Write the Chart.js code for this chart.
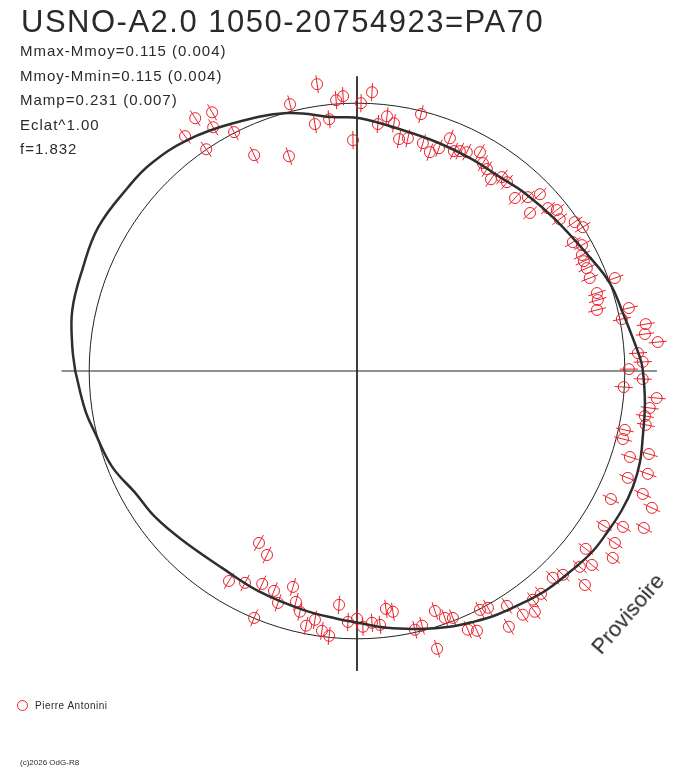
<!DOCTYPE html>
<html>
<head>
<meta charset="utf-8">
<script src="https://cdn.jsdelivr.net/npm/chart.js@4.4.1/dist/chart.umd.min.js"></script>
<style>
  html, body { margin: 0; padding: 0; background: #fff; }
  #wrap { position: relative; width: 688px; height: 768px; font-family: "Liberation Sans", Arial, sans-serif; color: #2a2a2a; }
  #c { position: absolute; left: 0; top: 0; }
  .txt { position: absolute; white-space: nowrap; line-height: 1; }
  #title { left: 21px; top: 6px; font-size: 31px; letter-spacing: 1.5px; }
  .stat { left: 20px; font-size: 15px; letter-spacing: 1px; }
  #prov { left: 573px; top: 603px; width: 110px; text-align: center; font-size: 22px; transform: rotate(-49deg); transform-origin: 50% 50%; }
  #legend { left: 17px; top: 700px; font-size: 10px; letter-spacing: 0.5px; }
  #legend .dot { display: inline-block; width: 9px; height: 9px; border: 1px solid #e8202a; border-radius: 50%; vertical-align: -2px; margin-right: 7px; }
  #copy { left: 20px; top: 759px; font-size: 8px; }
</style>
</head>
<body>
<div id="wrap">
  <canvas id="c" width="688" height="768"></canvas>
  <div id="title" class="txt">USNO-A2.0 1050-20754923=PA70</div>
  <div id="stats"></div>
  <div id="prov" class="txt">Provisoire</div>
  <div id="legend" class="txt"><span class="dot"></span>Pierre Antonini</div>
  <div id="copy" class="txt">(c)2026 OdG-R8</div>
</div>
<script>
// header lines
const statLines = ['Mmax-Mmoy=0.115 (0.004)', 'Mmoy-Mmin=0.115 (0.004)', 'Mamp=0.231 (0.007)', 'Eclat^1.00', 'f=1.832'];

// observations, polar light curve (unit = mean magnitude circle)
const obsX = [-0.149, 0.056, -0.078, -0.052, 0.015, -0.250, -0.541, -0.604, -0.537, -0.459,
  -0.642, -0.563, -0.157, -0.104, -0.015, -0.384, -0.254,
  0.239, 0.112, 0.078, 0.138, 0.157, 0.190, 0.246, 0.272, 0.306,
  0.347, 0.362, 0.384, 0.410, 0.459, 0.470, 0.485, 0.500, 0.541, 0.560,
  0.590, 0.638, 0.683, 0.646, 0.713, 0.746, 0.757, 0.813, 0.843, 0.806,
  0.840, 0.840, 0.847, 0.858, 0.869, 0.963, 0.896, 0.899, 0.896, 1.015,
  0.989, 1.078, 1.075, 1.123, 1.049, 1.067, 1.015, 1.067, 0.996, 1.119,
  1.093, 1.075, 1.078, 1.000, 0.993, 1.090, 1.019, 1.086, 1.011, 1.067,
  0.948, 1.101, 0.993, 0.922, 1.071, 0.963, 0.854, 0.955, 0.877, 0.832,
  0.769, 0.731, 0.851, 0.687, 0.657, 0.664, 0.619, 0.560, 0.489, 0.459,
  0.567, 0.414, 0.448, 0.358, 0.328, 0.299, 0.291, 0.216, 0.243, 0.108,
  0.134, 0.086, 0.056, 0.022, 0.000, -0.034, -0.067, -0.104, -0.131, -0.190,
  -0.157, -0.213, -0.228, -0.295, -0.310, -0.239, -0.354, -0.418, -0.478, -0.384,
  -0.366, -0.336];
const obsY = [1.071, 1.041, 1.011, 1.026, 1.000, 0.996, 0.966, 0.944, 0.910, 0.892,
  0.877, 0.828, 0.922, 0.940, 0.862, 0.806, 0.802,
  0.959, 0.951, 0.922, 0.925, 0.866, 0.869, 0.851, 0.817, 0.832,
  0.869, 0.821, 0.821, 0.817, 0.817, 0.776, 0.754, 0.716, 0.724, 0.705,
  0.646, 0.649, 0.660, 0.590, 0.608, 0.601, 0.567, 0.556, 0.537, 0.481,
  0.470, 0.433, 0.410, 0.384, 0.347, 0.347, 0.291, 0.265, 0.228, 0.235,
  0.194, 0.175, 0.138, 0.108, 0.067, 0.034, 0.007, -0.030, -0.060, -0.101,
  -0.138, -0.168, -0.201, -0.220, -0.254, -0.310, -0.321, -0.384, -0.399, -0.459,
  -0.478, -0.511, -0.582, -0.578, -0.586, -0.642, -0.664, -0.698, -0.724, -0.731,
  -0.761, -0.772, -0.799, -0.832, -0.854, -0.899, -0.910, -0.877, -0.884, -0.892,
  -0.955, -0.966, -0.970, -0.922, -0.922, -1.037, -0.896, -0.966, -0.951, -0.888,
  -0.899, -0.948, -0.940, -0.955, -0.925, -0.937, -0.873, -0.989, -0.970, -0.951,
  -0.929, -0.899, -0.862, -0.866, -0.821, -0.806, -0.795, -0.791, -0.784, -0.922,
  -0.642, -0.687];
const obsErr = 0.034;          // radial error bar half-length
const noErrIdx = [128, 129];   // points drawn without error bar

// fitted curve
const curveX = [-1.052, -1.063, -1.063, -1.026, -0.966, -0.854, -0.772, -0.634, -0.463, -0.261,
  -0.090, 0.011, 0.172, 0.299, 0.422, 0.534, 0.627, 0.739, 0.869, 0.944,
  0.993, 1.056, 1.067, 1.075, 1.067, 1.056, 1.030, 0.989, 0.933, 0.881,
  0.813, 0.709, 0.619, 0.522, 0.433, 0.347, 0.235, 0.112, 0.004, -0.075,
  -0.201, -0.362, -0.504, -0.653, -0.754, -0.828, -0.914, -0.978, -1.015, -1.052];
const curveY = [0.000, 0.090, 0.228, 0.377, 0.537, 0.687, 0.772, 0.862, 0.925, 0.963,
  0.948, 0.944, 0.899, 0.854, 0.795, 0.724, 0.664, 0.567, 0.425, 0.328,
  0.216, 0.052, 0.004, -0.119, -0.246, -0.343, -0.433, -0.519, -0.604, -0.672,
  -0.735, -0.817, -0.866, -0.910, -0.937, -0.955, -0.963, -0.959, -0.940, -0.925,
  -0.892, -0.825, -0.735, -0.631, -0.545, -0.455, -0.358, -0.231, -0.146, 0.000];

// axis extents
const axisHX = [-1.103, 1.12];
const axisVY = [1.1, -1.12];
const circleR = 1;

document.getElementById('stats').innerHTML = statLines.map((s, i) =>
  `<div class="txt stat" style="top:${43 + i * 24.5}px">${s}</div>`).join('');

const zip = (xs, ys) => xs.map((x, i) => ({ x: x, y: ys[i] }));

const refCircle = {
  id: 'refCircle',
  beforeDatasetsDraw(chart) {
    const { ctx, scales: { x, y } } = chart;
    const cx = x.getPixelForValue(0), cy = y.getPixelForValue(0);
    const r = x.getPixelForValue(circleR) - cx;
    ctx.save();
    ctx.strokeStyle = '#222';
    ctx.lineWidth = 1;
    ctx.beginPath();
    ctx.arc(cx, cy, r, 0, Math.PI * 2);
    ctx.stroke();
    ctx.restore();
  }
};

const errBars = {
  id: 'errBars',
  afterDatasetDraw(chart, args) {
    if (args.meta.label !== 'Pierre Antonini') return;
    const { ctx, scales: { x, y } } = chart;
    const cx = x.getPixelForValue(0), cy = y.getPixelForValue(0);
    const len = x.getPixelForValue(obsErr) - cx;
    ctx.save();
    ctx.strokeStyle = '#e8202a';
    ctx.lineWidth = 1;
    args.meta.data.forEach((pt, i) => {
      if (noErrIdx.includes(i)) return;
      const dx = pt.x - cx, dy = pt.y - cy;
      const d = Math.hypot(dx, dy) || 1;
      const ux = dx / d * len, uy = dy / d * len;
      ctx.beginPath();
      ctx.moveTo(pt.x - ux, pt.y - uy);
      ctx.lineTo(pt.x + ux, pt.y + uy);
      ctx.stroke();
    });
    ctx.restore();
  }
};

new Chart(document.getElementById('c'), {
  type: 'scatter',
  data: {
    datasets: [
      {
        label: 'fit',
        data: zip(curveX, curveY),
        showLine: true,
        tension: 0.4,
        borderColor: '#2e2e2e',
        borderWidth: 2.5,
        pointRadius: 0,
        clip: false,
        order: 1
      },
      {
        label: 'Pierre Antonini',
        data: zip(obsX, obsY),
        pointStyle: 'circle',
        pointRadius: 5.5,
        pointBorderWidth: 1,
        borderColor: '#e8202a',
        backgroundColor: 'rgba(0,0,0,0)',
        clip: false,
        order: 2
      },
      {
        label: 'axisH',
        data: zip(axisHX, [0, 0]),
        showLine: true,
        borderColor: '#222',
        borderWidth: 1,
        pointRadius: 0,
        clip: false,
        order: 3
      },
      {
        label: 'axisV',
        data: zip([0, 0], axisVY),
        showLine: true,
        borderColor: '#222',
        borderWidth: 1,
        pointRadius: 0,
        clip: false,
        order: 3
      }
    ]
  },
  options: {
    responsive: false,
    animation: false,
    layout: { padding: { left: 49, right: 23, top: 63, bottom: 89 } },
    scales: {
      x: { type: 'linear', min: -1.15, max: 1.15, display: false },
      y: { type: 'linear', min: -1.15, max: 1.15, display: false }
    },
    plugins: { legend: { display: false }, tooltip: { enabled: false } }
  },
  plugins: [refCircle, errBars]
});
</script>
</body>
</html>
